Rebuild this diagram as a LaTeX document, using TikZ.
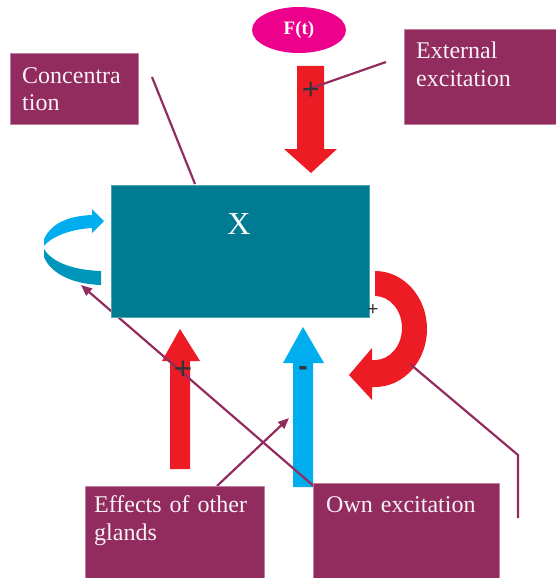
\documentclass[tikz,border=0pt]{standalone}
\usepackage{fontspec}
\setmainfont{Liberation Serif}
\newfontfamily\signfont{Liberation Sans}
\usetikzlibrary{arrows.meta,shapes.geometric,calc}
\definecolor{plum}{RGB}{146,43,94}
\definecolor{tealbox}{RGB}{0,123,145}
\definecolor{pinkc}{RGB}{236,0,140}
\definecolor{redc}{RGB}{237,28,36}
\definecolor{bluec}{RGB}{0,174,239}
\definecolor{bluedark}{RGB}{0,150,188}
\definecolor{signc}{RGB}{51,51,51}
\tikzset{
  labelbox/.style={fill=plum, draw=plum!60!white, line width=0.6pt, inner sep=0pt, anchor=north west},
  boxtext/.style={font=\fontsize{24}{28}\selectfont, text=white!94!plum, inner sep=0pt, text width=175pt, align=left, anchor=base west},
  conn/.style={draw=plum, line width=2.2pt},
  sign/.style={text=signc, inner sep=0pt},
}
\begin{document}
\begin{tikzpicture}[x=1pt,y=-1pt]
\useasboundingbox (0,0) rectangle (555,578);

% F(t) ellipse
\node[ellipse, fill=pinkc, minimum width=94pt, minimum height=46pt, inner sep=0pt,
      font=\bfseries\fontsize{19}{22}\selectfont, text=white] (ft) at (299,30) {F(t)};

% red down arrow
\fill[redc] (297,66) -- (324,66) -- (324,149) -- (337,149) -- (311,173) -- (284,149) -- (297,149) -- cycle;

% red up arrow
\fill[redc] (170,469) -- (190,469) -- (190,361) -- (200,361) -- (180,329) -- (162,361) -- (170,361) -- cycle;

% blue up arrow
\fill[bluec] (293,487) -- (313,487) -- (313,363) -- (324,363) -- (303,327) -- (283,363) -- (293,363) -- cycle;

% red curved arrow
\fill[redc] (375,271) arc[start angle=-90, end angle=90, x radius=52, y radius=58]
  -- (372,387) -- (372,400) -- (349,375) -- (372,348) -- (372,360) -- (375,360)
  arc[start angle=90, end angle=-90, x radius=27, y radius=32] -- cycle;

% blue curved arrow (left)
\fill[bluec] (44,239) .. controls (52,222) and (70,216) .. (92,215)
  -- (92,209) -- (104,221) -- (92,233) -- (92,228)
  .. controls (72,229) and (52,236) .. (44,246) -- cycle;
\fill[bluedark] (44,249) .. controls (52,262) and (72,270) .. (101,271)
  -- (101,285) .. controls (70,284) and (50,272) .. (44,257) -- cycle;

% connector end points
\coordinate (concA) at (152,77);
\coordinate (concB) at (195,184);
\coordinate (extA) at (386,62);
\coordinate (extB) at (303,91);
\coordinate (effA) at (217,486);
\coordinate (effB) at (289,418);
\coordinate (ownA) at (316,488);
\coordinate (ownB) at (81,285);
\coordinate (loopA) at (410,364);
\coordinate (loopB) at (518,455);
\coordinate (loopC) at (518,518);

% connectors
\draw[conn] (concA) -- (concB);
\draw[conn] (extA) -- (extB);
\draw[conn, -{Triangle[length=11pt,width=9pt]}] (effA) -- (effB);
\draw[conn, -{Triangle[length=11pt,width=9pt]}] (ownA) -- (ownB);
\draw[conn] (loopA) -- (loopB) -- (loopC);

% main box
\node[fill=tealbox, draw=tealbox!70!white, line width=0.5pt, minimum width=258pt, minimum height=132pt,
      inner sep=0pt, anchor=north west] (xbox) at (111,185) {};
\node[font=\fontsize{32}{36}\selectfont, text=white, inner sep=0pt, anchor=base] (xlab) at (239,234) {X};

% label boxes
\node[labelbox, minimum width=128pt, minimum height=71pt] (conc) at (10,53) {};
\node[labelbox, minimum width=155pt, minimum height=95pt] (ext) at (404,29) {};
\node[labelbox, minimum width=179pt, minimum height=96pt] (eff) at (85,486) {};
\node[labelbox, minimum width=186pt, minimum height=99pt] (own) at (313,483) {};

% texts
\node[boxtext] (concT) at (22,83) {Concentra\\tion};
\node[boxtext] (extT) at (416,59) {External\\excitation};
\node[boxtext] (effT) at (94,512) {Effects of other\\glands};
\node[boxtext] (ownT) at (326,512) {Own excitation};

% signs
\node[sign, font=\signfont\fontsize{30}{30}\selectfont] (p1) at (311,91) {+};
\node[sign, font=\signfont\fontsize{19}{19}\selectfont] (p2) at (373,310) {+};
\node[sign, font=\signfont\fontsize{32}{32}\selectfont] (p3) at (183,370) {+};
\node[sign, font=\signfont\bfseries\fontsize{28}{28}\selectfont] (m1) at (303,371) {-};
\end{tikzpicture}
\end{document}
